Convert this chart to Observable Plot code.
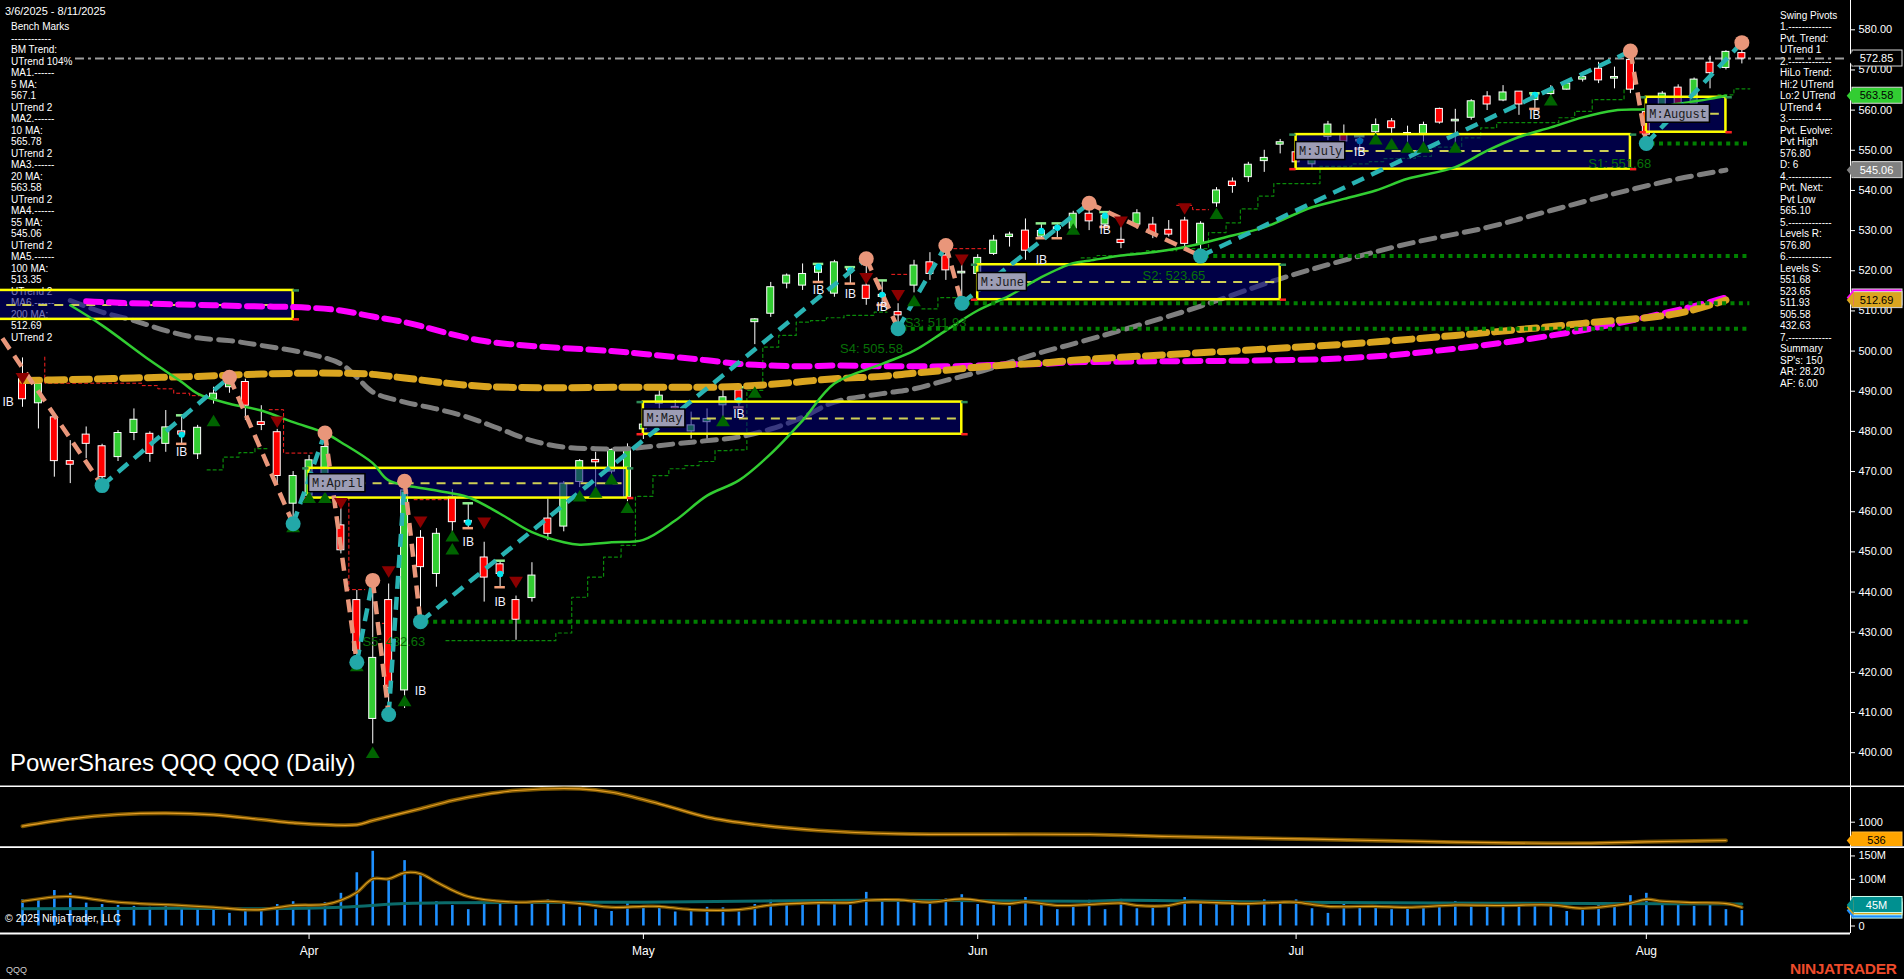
<!DOCTYPE html>
<html><head><meta charset="utf-8">
<script src="https://cdn.jsdelivr.net/npm/d3@7"></script>
<script src="https://cdn.jsdelivr.net/npm/@observablehq/plot@0.6"></script>
<style>
html,body{margin:0;padding:0;background:#000;overflow:hidden}
#root{position:relative;width:1904px;height:979px;background:#000;font-family:"Liberation Sans",Arial,sans-serif;color:#fff;overflow:hidden}
.txt{position:absolute;font-size:10px;line-height:11.5px;color:#fff;white-space:pre;z-index:1}
.lay{position:absolute;left:0;z-index:2}
.lay svg{display:block;background:transparent}
.top{position:absolute;z-index:3;white-space:pre}
</style></head><body><div id="root"></div>
<script>
// ---------------- DATA ----------------
const dates = [
"2025-03-06","2025-03-07","2025-03-10","2025-03-11","2025-03-12","2025-03-13","2025-03-14","2025-03-17","2025-03-18","2025-03-19","2025-03-20","2025-03-21","2025-03-24","2025-03-25","2025-03-26","2025-03-27","2025-03-28","2025-03-31",
"2025-04-01","2025-04-02","2025-04-03","2025-04-04","2025-04-07","2025-04-08","2025-04-09","2025-04-10","2025-04-11","2025-04-14","2025-04-15","2025-04-16","2025-04-17","2025-04-21","2025-04-22","2025-04-23","2025-04-24","2025-04-25","2025-04-28","2025-04-29","2025-04-30",
"2025-05-01","2025-05-02","2025-05-05","2025-05-06","2025-05-07","2025-05-08","2025-05-09","2025-05-12","2025-05-13","2025-05-14","2025-05-15","2025-05-16","2025-05-19","2025-05-20","2025-05-21","2025-05-22","2025-05-23","2025-05-27","2025-05-28","2025-05-29","2025-05-30",
"2025-06-02","2025-06-03","2025-06-04","2025-06-05","2025-06-06","2025-06-09","2025-06-10","2025-06-11","2025-06-12","2025-06-13","2025-06-16","2025-06-17","2025-06-18","2025-06-20","2025-06-23","2025-06-24","2025-06-25","2025-06-26","2025-06-27","2025-06-30",
"2025-07-01","2025-07-02","2025-07-03","2025-07-07","2025-07-08","2025-07-09","2025-07-10","2025-07-11","2025-07-14","2025-07-15","2025-07-16","2025-07-17","2025-07-18","2025-07-21","2025-07-22","2025-07-23","2025-07-24","2025-07-25","2025-07-28","2025-07-29","2025-07-30","2025-07-31",
"2025-08-01","2025-08-04","2025-08-05","2025-08-06","2025-08-07","2025-08-08","2025-08-11"];

const open = [
493.0,487.0,483.5,472.6,479.2,476.3,473.6,479.6,479.4,476.9,
480.0,474.3,488.1,491.0,492.3,482.3,479.8,462.0,464.0,466.5,
456.6,438.0,408.4,438.0,415.5,453.5,444.5,463.7,457.7,448.6,
446.9,438.0,438.5,458.3,456.3,467.4,472.9,470.0,463.6,480.5,
486.9,486.0,480.0,482.3,486.5,490.2,507.2,509.3,516.8,516.3,
519.5,514.3,520.9,516.3,513.5,509.7,516.3,522.1,523.8,519.5,
519.2,524.2,528.4,530.0,528.5,530.5,530.5,534.2,531.5,527.7,
531.5,531.5,530.2,532.5,526.7,536.8,542.2,543.3,547.3,551.4,
549.5,546.5,553.3,554.0,552.5,554.5,557.2,553.9,554.1,560.3,
557.3,558.1,563.4,562.4,564.6,562.5,564.0,565.1,567.6,570.3,
568.0,572.5,559.5,557.5,565.6,561.5,571.8,570.5,574.2];
const high = [
498.3,492.0,484.5,477.7,481.1,476.8,480.2,485.6,479.9,485.2,
484.0,481.5,491.0,493.5,493.0,486.4,480.5,470.0,474.0,479.6,
461.1,440.4,442.9,442.0,467.6,455.3,455.8,465.5,462.1,452.4,
447.8,439.0,447.3,463.2,467.5,473.0,474.8,475.6,476.9,486.5,
490.2,487.7,484.8,485.6,491.5,491.0,508.1,517.1,519.2,521.7,
521.7,522.6,520.9,523.0,517.6,511.8,522.6,524.5,526.3,522.1,
524.0,528.8,529.6,532.9,531.8,531.8,534.8,536.8,534.6,531.3,
535.2,533.3,532.5,533.3,532.2,540.7,543.1,547.0,550.0,552.7,
552.4,551.2,557.2,556.3,553.5,557.8,557.9,556.0,557.0,560.5,
560.2,562.6,564.6,566.1,564.6,564.2,566.1,567.0,568.8,571.9,
570.7,574.7,560.5,564.6,566.3,568.0,573.4,574.8,576.8];
const low = [
486.0,480.6,468.6,467.0,473.2,466.5,472.5,477.7,472.3,474.8,
476.9,473.0,486.8,489.5,482.7,480.2,467.0,457.0,462.5,465.0,
449.5,422.5,402.2,409.5,411.0,432.63,441.2,452.8,455.9,437.5,
441.2,428.0,437.5,452.8,455.0,466.0,466.1,469.0,462.5,478.0,
485.2,483.5,478.1,477.7,482.7,486.0,501.6,508.4,515.5,515.1,
517.2,513.4,516.8,511.4,511.5,505.58,514.5,517.6,517.6,511.93,
518.0,523.8,525.9,522.6,528.1,528.1,529.5,530.0,530.9,525.5,
530.4,528.0,528.4,525.5,523.65,535.8,539.3,542.0,544.5,549.1,
545.0,545.5,552.4,549.4,550.4,553.7,554.2,551.5,552.0,556.5,
551.5,557.5,559.9,562.1,558.7,560.3,563.6,565.0,567.0,566.6,
565.3,564.1,551.68,556.5,559.0,561.0,565.3,570.0,571.5];
const close = [
488.0,491.8,472.6,471.7,476.9,468.6,479.6,482.9,474.4,481.0,
479.2,480.9,489.4,492.5,486.4,481.6,468.9,468.9,472.8,476.1,
450.4,425.3,423.6,416.1,465.3,446.2,454.5,457.4,457.3,443.6,
444.5,433.1,444.1,454.5,467.0,472.6,472.3,475.4,475.6,481.7,
488.9,485.8,481.5,483.1,488.5,487.7,507.9,515.9,518.8,519.2,
521.0,522.1,520.1,513.0,514.0,508.9,521.3,519.2,520.1,519.6,
523.2,527.5,529.0,525.0,529.9,530.7,534.2,532.3,533.7,526.9,
534.3,529.2,529.0,526.7,531.7,540.0,541.1,546.4,548.1,552.0,
547.0,550.8,556.4,552.2,552.3,556.3,555.5,554.3,556.3,556.9,
557.5,562.2,561.4,564.4,561.4,563.8,565.0,566.6,568.2,567.4,
568.1,565.1,553.9,564.1,560.3,567.6,569.2,574.5,572.85];
// volume, millions of shares
const volume = [
56,55,76,70,49,46,44,42,40,42,37,44,35,27,35,37,46,52,42,50,
70,114,160,101,140,108,52,44,35,51,46,44,52,56,46,40,35,31,49,44,
40,30,35,40,39,30,46,55,49,50,49,52,44,72,56,58,49,50,58,67,
46,44,42,61,44,35,42,55,35,57,37,44,44,61,51,47,47,44,56,46,
56,37,27,46,38,44,35,40,38,44,52,42,50,40,44,42,44,31,34,46,
44,65,70,49,49,42,46,35,33];

// moving averages: [bar index, value]
const ma20 = [[3,511.4],[5,506.4],[8,497.7],[10,492.3],[11,489.4],[13,486.9],[15,485.2],[17,482.3],[19,479.6],[20,477.3],[22,472.1],[23,467.8],[26,465.3],[28,463.6],[30,459.5],[32,454.9],[34,452.4],[35,451.8],[37,452.4],[39,453.0],[41,457.8],[43,464.0],[45,467.8],[47,474.4],[49,482.7],[51,491.9],[54,496.8],[56,500.1],[58,505.1],[60,510.1],[62,513.8],[64,518.4],[66,521.9],[67,522.5],[69,523.8],[71,524.6],[73,525.9],[76,528.8],[78,530.8],[80,534.2],[81,535.8],[83,537.9],[85,540.0],[87,542.9],[90,545.8],[92,549.9],[94,553.3],[96,555.7],[98,558.2],[100,559.9],[102,560.3],[104,561.6],[106,562.8],[107,563.58]];
const ma55 = [[3,512.6],[5,509.7],[7,507.6],[9,505.1],[11,503.3],[13,502.6],[15,501.4],[18,499.3],[20,496.8],[21,493.5],[22,489.8],[24,487.3],[26,485.6],[28,483.5],[30,480.6],[32,477.7],[34,476.1],[36,475.7],[38,475.7],[41,476.9],[43,477.7],[45,478.6],[47,480.6],[49,483.5],[51,487.3],[54,489.4],[56,490.6],[58,492.7],[60,494.7],[62,497.2],[64,499.7],[66,501.8],[73,509.9],[79,518.0],[83,522.6],[87,526.7],[92,530.8],[96,535.0],[100,539.2],[104,542.9],[107,545.06]];
const ma100 = [[4,512.4],[5,512.2],[8,511.8],[11,511.5],[14,511.2],[18,510.8],[20,510.1],[22,508.6],[24,507.2],[29,502.5],[37,500.0],[39,499.3],[41,498.5],[43,497.7],[45,496.8],[47,496.4],[49,496.2],[51,496.4],[54,496.2],[56,496.2],[58,496.2],[60,496.4],[62,496.7],[64,496.8],[66,497.2],[83,498.2],[90,500.6],[98,505.2],[105,511.2],[107,513.35]];
const ma200 = [[0,492.7],[3,492.9],[7,493.3],[11,493.7],[15,494.3],[20,494.5],[22,494.2],[24,493.3],[29,491.2],[39,491.0],[43,491.0],[45,491.2],[47,491.7],[49,492.4],[51,493.1],[54,493.7],[56,494.5],[58,495.2],[60,496.0],[62,496.6],[64,497.0],[66,497.7],[83,501.7],[90,503.9],[98,506.9],[104,509.4],[107,512.69]];

// swing pivots [bar index, price]
const pivots = [[-2,507.5],[5,466.5],[13,493.5],[17,457.0],[19,479.6],[21,422.5],[22,442.9],[23,409.5],[24,467.6],[25,432.63],[53,523.0],[55,505.58],[58,526.3],[59,511.93],[67,536.8],[74,523.65],[101,574.7],[102,551.68],[108,576.8]];

// support levels
const levelNames = ["S1","S2","S3","S4","S5"];
const levelValues = [551.68,523.65,511.93,505.58,432.63];
const levelStartBar = [102,74,59,55,25];

// monthly boxes
const boxMonths = ["March","April","May","June","July","August"];
const boxStart = [-3,18,39,60,80,102];
const boxEnd = [17,38,59,79,101,107];
const boxTop = [515.1,470.8,487.3,521.5,553.9,563.2];
const boxBottom = [507.9,463.4,479.3,512.8,545.3,554.5];
const boxMid = [511.5,467.1,483.2,517.2,549.8,559.1];

// inside bars and labels
const ibBars = [10,28,30,45,50,52,54,64,65,68,84,95];
const ibLabels = [[-0.9,487.3],[10,474.8],[25,415.2],[28,452.4],[30,437.5],[45,484.4],[50,515.1],[52,514.1],[54,510.9],[64,522.6],[68,530.0],[84,549.5],[95,558.7]];

// signal triangles
const upSignals = [[12,482.7],[17,456.3],[18,463.6],[19,463.6],[21,421.7],[22,400.1],[24,413.0],[27,454.0],[27,450.8],[35,464.0],[36,464.9],[37,468.2],[38,461.1],[44,482.7],[46,489.8],[56,512.6],[66,530.4],[75,534.3],[85,552.9],[86,551.6],[87,550.8],[88,550.8],[90,550.8],[96,562.6]];
const downSignals = [[0,493.1],[16,482.3],[20,462.0],[23,445.0],[25,457.4],[29,457.1],[31,442.4],[53,518.0],[55,513.8],[59,522.6],[69,532.1],[73,535.4]];

// trailing stops (step lines)
const redStops = [
 [[1.4,498.5],[1.4,492.0],[7.5,491.4],[8.5,490.6],[9.5,489.5],[10.5,488.9],[12.0,488.9]],
 [[15.5,485.4],[16.4,474.6],[18.2,474.6]],
 [[20.5,463.6],[20.5,440.6],[21.5,440.6]],
 [[22.6,432.2],[23.5,432.2]],
 [[24.6,463.0],[26.7,463.0]],
 [[54.6,519.1],[55.6,519.1]],
 [[58.5,525.5],[60.5,525.5]],
 [[72.5,536.3],[73.5,535.2],[74.5,535.2]]];
const greenStops = [
 [[11.6,470.4],[12.6,473.6],[13.6,474.7],[14.6,475.7],[15.4,475.7]],
 [[26.6,427.9],[33.5,429.8],[34.5,438.7],[35.5,443.7],[36.5,448.7],[37.6,451.6],[38.5,463.8],[39.6,469.0],[40.6,470.7],[41.6,471.5],[42.5,472.5],[43.5,475.2],[44.5,475.4],[45.5,490.2],[46.5,501.0],[47.5,503.9],[48.6,507.2],[49.5,507.6],[50.5,508.3],[51.6,508.9],[53.5,509.7],[54.3,509.7]],
 [[56.5,510.5],[57.5,513.3],[59.7,513.3]],
 [[66.5,523.2],[67.5,523.8],[69.6,524.4],[70.6,525.0],[72.5,525.5],[74.5,529.5],[75.6,531.9],[76.5,535.4],[77.6,538.6],[78.6,541.7],[81.5,546.0],[83.5,546.6],[84.6,547.2],[85.5,547.9],[86.5,548.0],[87.5,548.5],[88.5,550.8],[90.4,553.1],[91.6,555.6],[92.6,556.9],[96.5,558.1],[97.5,559.7],[98.6,562.6],[100.6,565.3],[101.2,565.3]],
 [[106.5,563.8],[107.5,565.3],[108.5,565.3]]];

// lower indicator panel [bar index, value]
const indicator = [[0,899],[3,1086],[6,1195],[9,1228],[12,1187],[15,1068],[17,984],[21,934],[22,1043],[25,1340],[27,1550],[29,1702],[31,1803],[35,1847],[37,1760],[40,1466],[43,1127],[46,941],[50,790],[55,706],[67,688],[72,637],[81,569],[90,493],[98,468],[102,503],[107,536]];
// volume averages [bar index, millions]
const volAvgFast = [[0,53],[2,62],[3,63],[6,51],[10,44],[12,40],[14,35],[15,35],[17,44],[19,46],[20,55],[21,72],[22,101],[23,101],[24,114],[25,112],[26,94],[28,63],[31,51],[33,53],[35,48],[37,40],[39,42],[40,42],[42,35],[45,35],[47,45],[50,50],[52,50],[53,55],[55,56],[57,51],[59,58],[61,50],[62,48],[63,52],[65,44],[67,46],[69,49],[70,44],[72,44],[73,51],[75,50],[77,48],[79,51],[80,51],[82,42],[85,42],[87,40],[90,45],[93,44],[96,45],[98,38],[100,44],[101,49],[102,57],[103,53],[105,50],[107,48],[108,40]];
const volAvgSlow = [[0,37],[10,38],[15,37],[20,40],[24,48],[27,50],[39,51],[53,55],[67,53],[69,55],[79,51],[108,47]];

const lastPrice = 572.85;
const priceTicks = d3.range(400, 581, 10);
const priceFlags = [572.85, 563.58, 545.06, 513.35, 512.69];
const indicatorTick = [1000];
const indicatorFlag = 536;
const volumeTicks = [0, 100, 150];
const volumeTickLabels = ["0", "100M", "150M"];
const volumeFlags = [33, 40, 45];
const volumeFlagLabel = "45M";

const benchText = ["Bench Marks","------------","BM Trend:","UTrend 104%","MA1.------","5 MA:","567.1","UTrend 2","MA2.------","10 MA:","565.78","UTrend 2","MA3.------","20 MA:","563.58","UTrend 2","MA4.------","55 MA:","545.06","UTrend 2","MA5.------","100 MA:","513.35","UTrend 2","MA6.------","200 MA:","512.69","UTrend 2"];
const pivotText = ["Swing Pivots","1.-------------","Pvt. Trend:","UTrend 1","2.-------------","HiLo Trend:","Hi:2 UTrend","Lo:2 UTrend","UTrend 4","3.-------------","Pvt. Evolve:","Pvt High","576.80","D: 6","4.-------------","Pvt. Next:","Pvt Low","565.10","5.-------------","Levels R:","576.80","6.-------------","Levels S:","551.68","523.65","511.93","505.58","432.63","7.-------------","Summary","SP's: 150","AR: 28.20","AF: 6.00"];

// ---------------- LAYOUT ----------------
const W = 1904, AXIS_X = 1850;
const barStep = 15.92, bar0X = 22;
const xAt = px => (px - bar0X) / barStep;
const xDomain = [xAt(0), xAt(AXIS_X)];
const FONT = "'Liberation Sans', Arial, sans-serif";
const root = document.getElementById("root");

const bars = dates.map((d, i) => ({i, o: open[i], h: high[i], l: low[i], c: close[i], v: volume[i]}));

// symbols
const symUp = {draw(ctx, size){ const h = Math.sqrt(size); ctx.moveTo(0,-h*0.5); ctx.lineTo(h*0.6,h*0.5); ctx.lineTo(-h*0.6,h*0.5); ctx.closePath(); }};
const symDown = {draw(ctx, size){ const h = Math.sqrt(size); ctx.moveTo(-h*0.6,-h*0.5); ctx.lineTo(h*0.6,-h*0.5); ctx.lineTo(0,h*0.5); ctx.closePath(); }};
const symLeft = {draw(ctx, size){ const h = Math.sqrt(size); ctx.moveTo(-h*0.85,0); ctx.lineTo(0,-h); ctx.lineTo(0,h); ctx.closePath(); }};

function flagMarks(vals, fills, textFills, labels, unitsPerPx, stroke) {
  const d = vals.map((v, k) => ({v, fill: fills[k], tf: textFills[k], lab: labels[k]}));
  const hh = 8 * unitsPerPx;
  return [
    Plot.rect(d, {x1: xAt(1852), x2: xAt(1902), y1: r => r.v - hh, y2: r => r.v + hh, fill: r => r.fill, stroke: stroke, strokeWidth: 1}),
    Plot.dot(d, {x: xAt(1853), y: "v", r: 4.51, symbol: symLeft, fill: r => r.fill, stroke: "none"}),
    Plot.text(d.filter(r => r.lab), {x: xAt(1876), y: "v", text: "lab", fill: r => r.tf, fontSize: 11, fontFamily: FONT})
  ];
}

// ---------------- PRICE PANEL ----------------
const ppu = 4.016; // px per price unit
const priceHi = 580 + 29.3 / ppu, priceLo = 580 - (785 - 29.3) / ppu;
const upp = 1 / ppu;
const teal = "#29b3b3", salmon = "#e9967a";

const segs = pivots.slice(1).map((p, k) => ({x1: pivots[k][0], y1: pivots[k][1], x2: p[0], y2: p[1], up: p[1] > pivots[k][1]}));
const pivObjs = pivots.map((p, k) => ({x: p[0], y: p[1], hi: k < pivots.length - 1 ? p[1] > pivots[k+1][1] : p[1] > pivots[k-1][1]}));
const levels = levelValues.map((v, k) => ({name: levelNames[k], v, s: levelStartBar[k]}));
const boxes = boxMonths.map((m, k) => ({m, s: boxStart[k], e: boxEnd[k], t: boxTop[k], b: boxBottom[k], mid: boxMid[k]}));
const labeledBoxes = boxes.filter(b => b.s >= 0);
const stopLines = (arr) => arr.flatMap((seg, k) => seg.map(p => ({k, x: p[0], y: p[1]})));
const ibData = ibBars.map(i => bars[i]);
const bodyHalf = 3.5 / barStep;

const pricePlot = Plot.plot({
  width: W, height: 785, marginLeft: 0, marginRight: W - AXIS_X, marginTop: 0, marginBottom: 0,
  style: {background: "transparent", color: "#fff", fontFamily: FONT},
  x: {domain: xDomain, axis: null},
  y: {domain: [priceLo, priceHi], axis: null},
  marks: [
    Plot.ruleY([lastPrice], {x1: xAt(75), x2: xDomain[1], stroke: "#9c9c9c", strokeWidth: 2, strokeDasharray: "9,4,3,4"}),
    Plot.line(stopLines(redStops), {x: "x", y: "y", z: "k", curve: "step-after", stroke: "#ff2020", strokeWidth: 1, strokeDasharray: "3,3"}),
    Plot.line(stopLines(greenStops), {x: "x", y: "y", z: "k", curve: "step-after", stroke: "#0a8a0a", strokeWidth: 1.2, strokeDasharray: "3,3"}),
    // candles
    Plot.ruleX(bars, {x: "i", y1: "l", y2: "h", stroke: "#fff", strokeWidth: 1}),
    Plot.rect(bars, {x1: d => d.i - bodyHalf, x2: d => d.i + bodyHalf,
      y1: d => Math.abs(d.o - d.c) < 0.4 ? (d.o + d.c) / 2 - 0.2 : d.o,
      y2: d => Math.abs(d.o - d.c) < 0.4 ? (d.o + d.c) / 2 + 0.2 : d.c,
      fill: d => d.c >= d.o ? "#32cd32" : "#ff0000", stroke: "#fff", strokeWidth: 1}),
    // inside bar markers
    Plot.ruleY(ibData, {y: "h", x1: d => d.i - 0.33, x2: d => d.i + 0.33, stroke: "#90ee90", strokeWidth: 2.5}),
    Plot.ruleY(ibData, {y: "l", x1: d => d.i - 0.33, x2: d => d.i + 0.33, stroke: "#f4a07a", strokeWidth: 2.5}),
    Plot.dot(ibData, {x: "i", y: "c", r: 3.2, fill: "#00e5ee"}),
    // 55 MA
    Plot.line(ma55, {x: d => d[0], y: d => d[1], stroke: "#7f7f7f", strokeWidth: 5, strokeDasharray: "14,8", curve: "catmull-rom"}),
    // monthly boxes
    Plot.rect(boxes, {x1: "s", x2: "e", y1: "b", y2: "t", fill: "#000080", fillOpacity: 0.55, stroke: "#ffff00", strokeWidth: 2.5, clip: true}),
    Plot.ruleY(boxes, {y: "mid", x1: "s", x2: "e", stroke: "#cfcf55", strokeWidth: 2, strokeDasharray: "9,7", clip: true}),
    Plot.ruleY(boxes, {y: "t", x1: "e", x2: d => d.e + 0.4, stroke: "#2e8b57", strokeWidth: 2.5}),
    Plot.ruleY(boxes, {y: "b", x1: "e", x2: d => d.e + 0.4, stroke: "#ff2020", strokeWidth: 2.5}),
    Plot.ruleY(labeledBoxes, {y: "t", x1: d => d.s - 0.4, x2: "s", stroke: "#2e8b57", strokeWidth: 2.5}),
    Plot.ruleY(labeledBoxes, {y: "b", x1: d => d.s - 0.4, x2: "s", stroke: "#ff2020", strokeWidth: 2.5}),
    // 100 / 200 MA
    Plot.line(ma100, {x: d => d[0], y: d => d[1], stroke: "#ff00ff", strokeWidth: 6, strokeDasharray: "15,8", curve: "catmull-rom"}),
    Plot.line(ma200, {x: d => d[0], y: d => d[1], stroke: "#daa520", strokeWidth: 7, strokeDasharray: "17,8", curve: "catmull-rom"}),
    // 20 MA
    Plot.line(ma20, {x: d => d[0], y: d => d[1], stroke: "#32cd32", strokeWidth: 2.5, curve: "catmull-rom"}),
    // support levels
    Plot.ruleY(levels, {y: "v", x1: d => d.s + 0.3, x2: 108.5, stroke: "#008000", strokeWidth: 4, strokeDasharray: "4,4.4"}),
    Plot.text(levels, {x: d => d.s + 0.3, y: "v", dy: 20, text: d => `${d.name}: ${d.v.toFixed(2)}`, textAnchor: "end", fill: "#087008", fontSize: 13, fontFamily: FONT}),
    // swing pivot legs
    Plot.link(segs.filter(s => s.up), {x1: "x1", y1: "y1", x2: "x2", y2: "y2", stroke: teal, strokeWidth: 4.5, strokeDasharray: "13,8", clip: true}),
    Plot.link(segs.filter(s => !s.up), {x1: "x1", y1: "y1", x2: "x2", y2: "y2", stroke: salmon, strokeWidth: 4.5, strokeDasharray: "13,8", clip: true}),
    // signals
    Plot.dot(upSignals, {x: d => d[0], y: d => d[1], r: 6.5, symbol: symUp, fill: "#006400"}),
    Plot.dot(downSignals, {x: d => d[0], y: d => d[1], r: 6.5, symbol: symDown, fill: "#8b0000"}),
    // pivot circles
    Plot.dot(pivObjs.filter(p => p.x >= 0), {x: "x", y: "y", r: 7.5, fill: d => d.hi ? salmon : "#22a8a8"}),
    // IB labels
    Plot.text(ibLabels, {x: d => d[0], y: d => d[1], text: () => "IB", fill: "#f2f2ff", fontSize: 12, fontFamily: FONT}),
    // box labels
    Plot.rect(labeledBoxes, {x1: "s", x2: d => d.s + (7.2 * ("M:" + d.m).length + 6) / barStep, y1: d => d.mid - 9 * upp, y2: d => d.mid + 9 * upp, fill: "#9d9db5", stroke: "#000", strokeWidth: 1.5}),
    Plot.text(labeledBoxes, {x: d => d.s + 3 / barStep, y: "mid", text: d => "M:" + d.m, textAnchor: "start", fill: "#1a1a1a", fontSize: 12, fontFamily: "'Liberation Mono', 'DejaVu Sans Mono', monospace"}),
    // right axis
    Plot.ruleX([xDomain[1]], {stroke: "#fff", strokeWidth: 1}),
    Plot.ruleY(priceTicks, {y: d => d, x1: xDomain[1], x2: xAt(1855), stroke: "#fff"}),
    Plot.text(priceTicks, {x: xAt(1858), y: d => d, text: d => d.toFixed(2), textAnchor: "start", fill: "#fff", fontSize: 11, fontFamily: FONT}),
    ...flagMarks(priceFlags, ["#000", "#32cd32", "#808080", "#ff00ff", "#daa520"], ["#fff", "#000", "#fff", "#000", "#000"],
      priceFlags.map((v, k) => k === 3 ? null : v.toFixed(2)), upp, "#d8d8d8")
  ]
});

// ---------------- INDICATOR PANEL ----------------
const indUpp = 25.35;
const indHi = 1000 + 36.7 * indUpp, indLo = 1000 - (61 - 36.7) * indUpp;
const indPlot = Plot.plot({
  width: W, height: 61, marginLeft: 0, marginRight: W - AXIS_X, marginTop: 0, marginBottom: 0,
  style: {background: "transparent", color: "#fff", fontFamily: FONT},
  x: {domain: xDomain, axis: null},
  y: {domain: [indLo, indHi], axis: null},
  marks: [
    Plot.ruleY([indHi - 0.7 * indUpp], {x1: xDomain[0], x2: xAt(W), stroke: "#fff", strokeWidth: 1.6}),
    Plot.line(indicator, {x: d => d[0], y: d => d[1], stroke: "#7a5500", strokeWidth: 4, curve: "catmull-rom"}),
    Plot.line(indicator, {x: d => d[0], y: d => d[1], stroke: "#e69d25", strokeWidth: 1.2, curve: "catmull-rom"}),
    Plot.ruleX([xDomain[1]], {stroke: "#fff", strokeWidth: 1}),
    Plot.ruleY(indicatorTick, {y: d => d, x1: xDomain[1], x2: xAt(1855), stroke: "#fff"}),
    Plot.text(indicatorTick, {x: xAt(1858), y: d => d, text: d => String(d), textAnchor: "start", fill: "#fff", fontSize: 11, fontFamily: FONT}),
    ...flagMarks([indicatorFlag], ["#ffa500"], ["#000"], [String(indicatorFlag)], indUpp, "#ffb733")
  ]
});

// ---------------- VOLUME PANEL ----------------
const volUpp = 100 / 46.7;
const volHi = 79.5 * volUpp, volLo = -(87 - 79.5) * volUpp;
const monthIdx = dates.map((d, i) => i).filter(i => i > 0 && dates[i].slice(5, 7) !== dates[i - 1].slice(5, 7));
const monthFmt = d3.timeFormat("%b");
const months = monthIdx.map(i => ({i, lab: monthFmt(new Date(dates[i] + "T12:00:00"))}));
const volPlot = Plot.plot({
  width: W, height: 133, marginLeft: 0, marginRight: W - AXIS_X, marginTop: 0, marginBottom: 46,
  style: {background: "transparent", color: "#fff", fontFamily: FONT},
  x: {domain: xDomain, axis: null},
  y: {domain: [volLo, volHi], axis: null},
  marks: [
    Plot.ruleY([volHi - 0.6 * volUpp], {x1: xDomain[0], x2: xAt(W), stroke: "#fff", strokeWidth: 1.6}),
    Plot.ruleX(bars, {x: "i", y1: 0, y2: "v", stroke: "#1e90ff", strokeWidth: 2.6}),
    Plot.line(volAvgSlow, {x: d => d[0], y: d => d[1], stroke: "#0b6b6b", strokeWidth: 3, curve: "catmull-rom"}),
    Plot.line(volAvgFast, {x: d => d[0], y: d => d[1], stroke: "#6e4c00", strokeWidth: 3.5, curve: "catmull-rom"}),
    Plot.line(volAvgFast, {x: d => d[0], y: d => d[1], stroke: "#e0a020", strokeWidth: 1.1, curve: "catmull-rom"}),
    Plot.ruleY([volLo], {x1: xDomain[0], x2: xDomain[1], stroke: "#fff", strokeWidth: 2}),
    Plot.ruleX([xDomain[1]], {y1: volLo, y2: volHi, stroke: "#fff", strokeWidth: 1}),
    Plot.ruleY(volumeTicks, {y: d => d, x1: xDomain[1], x2: xAt(1855), stroke: "#fff"}),
    Plot.text(volumeTicks, {x: xAt(1858), y: d => d, text: (d, k) => volumeTickLabels[k], textAnchor: "start", fill: "#fff", fontSize: 11, fontFamily: FONT}),
    ...flagMarks(volumeFlags, ["#1e90ff", "#daa520", "#009090"], ["#fff", "#000", "#fff"], [null, null, volumeFlagLabel], volUpp, "#cfe"),
    // month ticks and labels
    Plot.ruleX(months, {x: "i", y1: volLo, y2: volLo - 6 * volUpp, stroke: "#fff"}),
    Plot.text(months, {x: "i", y: volLo - 18 * volUpp, text: "lab", fill: "#fff", fontSize: 12, fontFamily: FONT})
  ]
});

function place(el, top) {
  const d = document.createElement("div");
  d.className = "lay"; d.style.top = top + "px";
  d.appendChild(el); root.appendChild(d);
}
function addText(lines, left, top, cls) {
  const d = document.createElement("div");
  d.className = cls || "txt"; d.style.left = left + "px"; d.style.top = top + "px";
  d.textContent = lines.join("\n"); root.appendChild(d);
  return d;
}

addText(["3/6/2025 - 8/11/2025"], 5, 5).style.cssText += "font-size:11px;line-height:13px;";
addText(benchText, 11, 21);
addText(pivotText, 1780, 10).style.lineHeight = "11.49px";

place(pricePlot, 0);
place(indPlot, 785);
place(volPlot, 846);

const title = addText(["PowerShares QQQ QQQ (Daily)"], 10, 750.5, "top");
title.style.cssText += "font-size:24px;line-height:24px;color:#fff;";
const copy = addText(["© 2025 NinjaTrader, LLC"], 5, 912, "top");
copy.style.cssText += "font-size:10.5px;line-height:12px;color:#fff;";
const sym = addText(["QQQ"], 6, 965, "top");
sym.style.cssText += "font-size:9px;line-height:11px;color:#cfcfcf;";
const brand = addText(["NINJATRADER"], 1790, 960, "top");
brand.style.cssText += "font-size:15.5px;line-height:18px;font-weight:bold;color:#ee4b2b;letter-spacing:-0.3px;";
</script></body></html>
